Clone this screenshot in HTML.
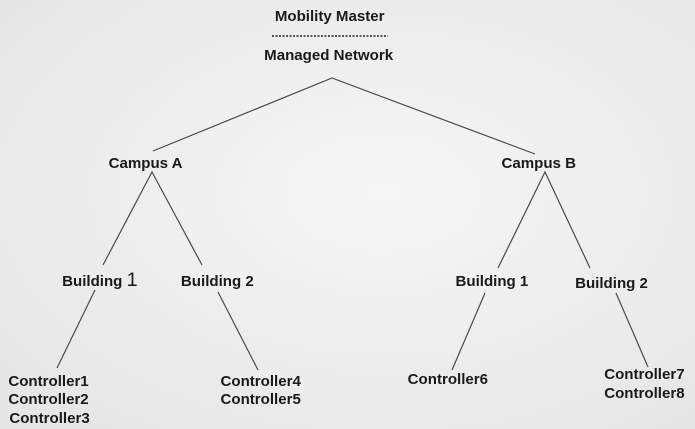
<!DOCTYPE html>
<html><head><meta charset="utf-8"><style>
html,body{margin:0;padding:0;width:695px;height:429px;overflow:hidden;background:#ededed}
svg{display:block}
text{font-family:"Liberation Sans",Arial,sans-serif;font-weight:bold;font-size:14.5px;fill:#1a1a1a}
</style></head><body>
<svg width="695" height="429" viewBox="0 0 695 429" xmlns="http://www.w3.org/2000/svg">
<defs><radialGradient id="g" cx="0.55" cy="0.45" r="0.7"><stop offset="0" stop-color="#f6f6f6"/><stop offset="1" stop-color="#e6e6e6"/></radialGradient></defs>
<rect width="695" height="429" fill="url(#g)"/>
<g text-anchor="middle" transform="scale(1.04,1)">
<text x="317" y="21">Mobility Master</text>
<text x="316" y="60">Managed Network</text>
<text x="140" y="168">Campus A</text>
<text x="518" y="168">Campus B</text>
<text x="96" y="286">Building <tspan font-size="19" font-weight="normal">1</tspan></text>
<text x="209" y="286">Building 2</text>
<text x="473" y="286">Building 1</text>
<text x="588" y="288">Building 2</text>
</g>
<line x1="272" y1="36" x2="388" y2="36" stroke="#222" stroke-width="1.5" stroke-dasharray="2,1.5"/>
<g stroke="#4a4a4a" stroke-width="1.2" fill="none">
<path d="M153,151 L332,78 L535,154"/>
<path d="M103,265 L152,172 L202,265"/>
<path d="M95,290 L57,368"/>
<path d="M218,292 L258,370"/>
<path d="M498,268 L545,172 L590,268"/>
<path d="M485,293 L452,370"/>
<path d="M616,293 L648,367"/>
</g>
<g transform="scale(1.04,1)">
<text x="8" y="386">Controller1</text>
<text x="8" y="404">Controller2</text>
<text x="9" y="423">Controller3</text>
<text x="212" y="386">Controller4</text>
<text x="212" y="404">Controller5</text>
<text x="392" y="384">Controller6</text>
<text x="581" y="379">Controller7</text>
<text x="581" y="398">Controller8</text>
</g>
</svg>
</body></html>
